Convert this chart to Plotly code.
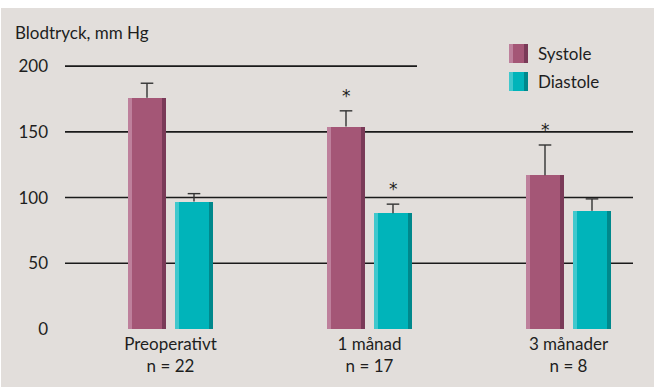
import plotly.graph_objects as go

# Blood pressure before and after surgery
groups = ["Preoperativt", "1 månad", "3 månader"]
n_values = [22, 17, 8]
systole = [176, 154, 117]
systole_sd = [11, 12, 23]
diastole = [97, 88, 90]
diastole_sd = [6, 7, 9]
systole_sig = ["", "*", "*"]
diastole_sig = ["", "*", ""]
y_ticks = [0, 50, 100, 150, 200]

W, H = 654, 387
ML, MR, MT, MB = 65, 21, 53, 58
PW, PH = W - ML - MR, H - MT - MB
Y_MAX = 210

BG = "#e2dedb"
SYS = ("#a45676", "#be809c", "#7a3a58")
DIA = ("#00b4ba", "#40c8cd", "#00888c")
TXT = "#1e1e1e"
FONT = "Lato"

x0 = -105.5 / 199
x1 = x0 + PW / 199
BAR_W = 38 / 199
STRIPE = 4 / 199
OFF = 23.5 / 199

xs = list(range(len(groups)))
fig = go.Figure()


def add_series(values, sd, colors, shift, name):
    main, light, dark = colors
    n = len(values)
    fig.add_trace(go.Bar(
        x=xs, y=values, name=name, width=[BAR_W] * n,
        offset=[shift - BAR_W / 2] * n,
        marker=dict(color=main, line=dict(width=0)),
        showlegend=False, hoverinfo="y"))
    fig.add_trace(go.Bar(
        x=xs, y=values, width=[STRIPE] * n,
        offset=[shift - BAR_W / 2] * n,
        marker=dict(color=light, line=dict(width=0)),
        showlegend=False, hoverinfo="skip"))
    fig.add_trace(go.Bar(
        x=xs, y=values, width=[STRIPE] * n,
        offset=[shift + BAR_W / 2 - STRIPE] * n,
        marker=dict(color=dark, line=dict(width=0)),
        showlegend=False, hoverinfo="skip"))


def add_whiskers(values, sd, shift):
    # upward-only error bars: a stem from the bar top plus a cap
    wx, wy = [], []
    for i, (v, s) in enumerate(zip(values, sd)):
        wx += [i + shift, i + shift, None]
        wy += [v, v + s, None]
    fig.add_trace(go.Scatter(
        x=wx, y=wy, mode="lines", line=dict(color="#333333", width=1.4),
        showlegend=False, hoverinfo="skip"))
    fig.add_trace(go.Scatter(
        x=[i + shift for i in xs], y=[v + s for v, s in zip(values, sd)],
        mode="markers", marker=dict(symbol="line-ew", size=9,
                                    line=dict(color="#333333", width=1.4)),
        showlegend=False, hoverinfo="skip"))


add_series(systole, systole_sd, SYS, -OFF, "Systole")
add_series(diastole, diastole_sd, DIA, OFF, "Diastole")
add_whiskers(systole, systole_sd, -OFF)
add_whiskers(diastole, diastole_sd, OFF)

# significance markers above the error bars
for i in xs:
    for vals, sd, sig, shift in ((systole, systole_sd, systole_sig, -OFF),
                                 (diastole, diastole_sd, diastole_sig, OFF)):
        if sig[i]:
            fig.add_annotation(x=i + shift, y=vals[i] + sd[i], xref="x", yref="y",
                               text=sig[i], showarrow=False, yanchor="bottom",
                               yshift=3, font=dict(family="DejaVu Sans", size=17, color=TXT))


def px_x(p):
    return (p - ML) / PW


def px_y(p):
    return (H - MB - p) / PH


# horizontal gridlines
shapes = []
for v in y_ticks[1:]:
    end = px_x(417) if v == 200 else 1
    shapes.append(dict(type="line", xref="paper", yref="y", x0=0, x1=end, y0=v, y1=v,
                       line=dict(color="#1a1a1a", width=1.6), layer="below"))

# white strip along top and left edge of the panel
shapes.append(dict(type="rect", xref="paper", yref="paper", x0=px_x(-2), x1=px_x(W + 2),
                   y0=px_y(8), y1=px_y(-2), fillcolor="white", line=dict(width=0),
                   layer="below"))
shapes.append(dict(type="rect", xref="paper", yref="paper", x0=px_x(-2), x1=px_x(1),
                   y0=px_y(H + 2), y1=px_y(-2), fillcolor="white", line=dict(width=0),
                   layer="below"))

# legend swatches
for (label, colors, top) in (("Systole", SYS, 44), ("Diastole", DIA, 72)):
    main, light, dark = colors
    l, r, b = 509, 528, top + 19
    shapes.append(dict(type="rect", xref="paper", yref="paper", x0=px_x(l), x1=px_x(r),
                       y0=px_y(b), y1=px_y(top), fillcolor=main, line=dict(width=0)))
    shapes.append(dict(type="rect", xref="paper", yref="paper", x0=px_x(l), x1=px_x(l + 4),
                       y0=px_y(b), y1=px_y(top), fillcolor=light, line=dict(width=0)))
    shapes.append(dict(type="rect", xref="paper", yref="paper", x0=px_x(r - 4), x1=px_x(r),
                       y0=px_y(b), y1=px_y(top), fillcolor=dark, line=dict(width=0)))
    fig.add_annotation(x=px_x(536), y=px_y(top + 9.5), xref="paper", yref="paper",
                       text=label, showarrow=False, xanchor="left", yanchor="middle",
                       font=dict(family=FONT, size=17, color=TXT))

fig.add_annotation(x=px_x(13), y=px_y(32), xref="paper", yref="paper",
                   text="Blodtryck, mm Hg", showarrow=False, xanchor="left",
                   yanchor="middle", font=dict(family=FONT, size=17, color=TXT))

tick_text = [f"{g}<br>n = {n}" for g, n in zip(groups, n_values)]

fig.update_layout(
    width=W, height=H,
    margin=dict(l=ML, r=MR, t=MT, b=MB, pad=0),
    paper_bgcolor=BG, plot_bgcolor=BG,
    barmode="overlay", bargap=0,
    shapes=shapes,
    font=dict(family=FONT, size=17, color=TXT),
    xaxis=dict(range=[x0, x1], tickvals=xs, ticktext=tick_text, showgrid=False,
               zeroline=False, showline=False, ticks="", ticklabelstandoff=3,
               automargin=False,
               tickfont=dict(family=FONT, size=17, color=TXT), fixedrange=True),
    yaxis=dict(range=[0, Y_MAX], tickvals=y_ticks, showgrid=False, zeroline=False,
               showline=False, ticks="", ticklabelstandoff=16, automargin=False,
               tickfont=dict(family=FONT, size=17, color=TXT), fixedrange=True),
)

fig.write_html("out.html")
